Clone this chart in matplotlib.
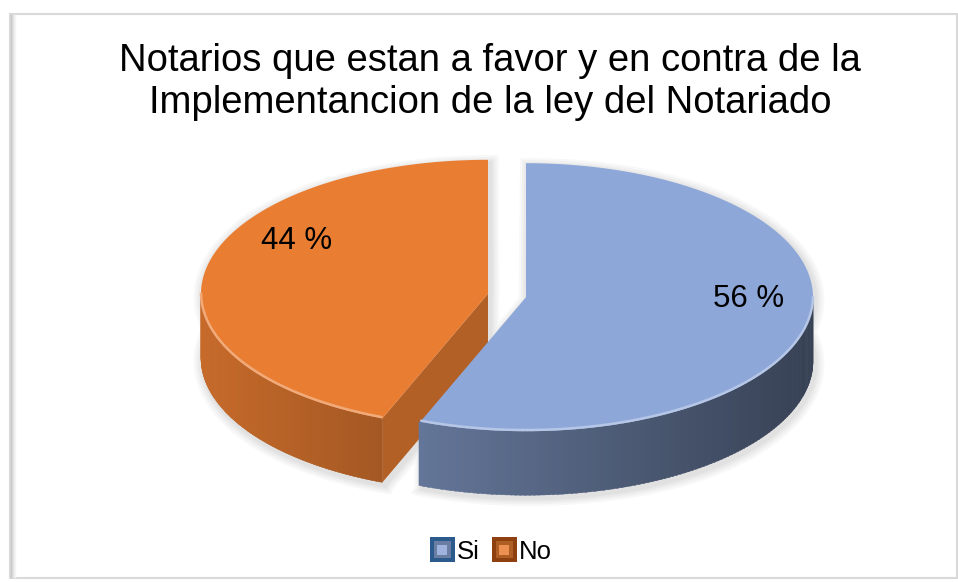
import numpy as np
import matplotlib
matplotlib.use("Agg")
import matplotlib.pyplot as plt
from matplotlib.patches import Polygon, Rectangle, Patch
from matplotlib.legend_handler import HandlerBase
from matplotlib.colors import to_rgb

plt.rcParams['font.family'] = ['Liberation Sans', 'DejaVu Sans']

# ---- data ----
title = "Notarios que estan a favor y en contra de la\nImplementancion de la ley del Notariado"
categories = ["Si", "No"]
values = [56, 44]
value_labels = ["56 %", "44 %"]
top_colors = ["#8DA7D8", "#E97D32"]
legend_edge = ["#2B5A8C", "#8E4010"]

# ---- geometry / style ----
W, H = 958, 582
CX, CY = 507, 295.5
RX, RY = 287, 134
DEPTH = 64
EXPLODE = 0.0674
label_pos = [(749, 299), (297, 241)]

fig = plt.figure(figsize=(W / 100, H / 100), dpi=100)
ax = fig.add_axes([0, 0, 1, 1])
ax.set_xlim(0, W)
ax.set_ylim(H, 0)
ax.axis('off')

# frame
ax.add_patch(Rectangle((10, 14), 947, 564, fill=False, edgecolor="#D9D9D9", lw=1.5, zorder=1))
for k, g in enumerate(["#C8C8C8", "#D6D6D6", "#E2E2E2", "#ECECEC", "#F4F4F4"]):
    ax.plot([11 + k, 11 + k], [15, 577], color=g, lw=1, zorder=1)


def pt(cx, cy, th):
    t = np.radians(th)
    return cx + RX * np.sin(t), cy - RY * np.cos(t)


def arc(cx, cy, a0, a1, n=200):
    th = np.linspace(a0, a1, n)
    x, y = pt(cx, cy, th)
    return np.column_stack([x, y])


def shade(c, f):
    r, g, b = to_rgb(c)
    return (r * f, g * f, b * f)


def lighten(c, f):
    r, g, b = to_rgb(c)
    return (r + (1 - r) * f, g + (1 - g) * f, b + (1 - b) * f)


total = float(sum(values))
bounds = np.concatenate([[0], np.cumsum(values)]) / total * 360.0
slices = []
for i in range(len(values)):
    a0, a1 = bounds[i], bounds[i + 1]
    mid = np.radians((a0 + a1) / 2)
    cx = CX + EXPLODE * RX * np.sin(mid)
    cy = CY - EXPLODE * RY * np.cos(mid)
    slices.append((a0, a1, cx, cy))

# shadows (drawn first, underneath everything)
shadow_cols = ["#F8F8F8", "#F1F1F1", "#E9E9E9", "#E1E1E1"]
for k, col in enumerate(shadow_cols):
    grow = (len(shadow_cols) - k) * 1.4
    for (a0, a1, cx, cy) in slices:
        top = np.vstack([[cx, cy], arc(cx, cy, a0, a1)])
        bot = top + np.array([0, DEPTH])
        for poly in (top, bot):
            c = poly.mean(axis=0)
            d = poly - c
            nrm = np.linalg.norm(d, axis=1, keepdims=True) + 1e-9
            p = poly + d / nrm * grow + np.array([2, 3])
            ax.add_patch(Polygon(p, closed=True, facecolor=col, edgecolor=col, lw=grow, zorder=2))
        sidep = np.vstack([arc(cx, cy, a0, a1), arc(cx, cy, a0, a1)[::-1] + np.array([0, DEPTH])])
        ax.add_patch(Polygon(sidep + np.array([2, 3]), closed=True, facecolor=col,
                             edgecolor=col, lw=grow * 2, zorder=2))

# draw slices: back (orange) first then blue
order = [1, 0]
z = 5
for i in order:
    a0, a1, cx, cy = slices[i]
    col = top_colors[i]
    # cut faces
    for a, nd in ((a0, a0 - 90), (a1, a1 + 90)):
        if np.cos(np.radians(nd)) < -1e-6:
            px, py = pt(cx, cy, a)
            face = [(cx, cy), (px, py), (px, py + DEPTH), (cx, cy + DEPTH)]
            ax.add_patch(Polygon(face, closed=True, facecolor=shade(col, 0.77),
                                 edgecolor='none', zorder=z))
    # outer side with gradient
    lo, hi = max(a0, 90), min(a1, 270)
    if lo < hi:
        th = np.linspace(lo, hi, 120)
        for j in range(len(th) - 1):
            s = np.sin(np.radians((th[j] + th[j + 1]) / 2))
            f = np.clip(0.62 - 0.23 * s, 0.38, 0.9)
            seg = arc(cx, cy, th[j], th[j + 1] + 0.3, 4)
            poly = np.vstack([seg, seg[::-1] + np.array([0, DEPTH])])
            ax.add_patch(Polygon(poly, closed=True, facecolor=shade(col, f),
                                 edgecolor=shade(col, f), lw=0.3, zorder=z))
    # top face
    top = np.vstack([[cx, cy], arc(cx, cy, a0, a1, 300)])
    ax.add_patch(Polygon(top, closed=True, facecolor=col, edgecolor='none', zorder=z + 1))
    # bevel highlight on the front rim
    if lo < hi:
        rim = arc(cx, cy, lo, hi)
        ax.plot(rim[:, 0], rim[:, 1] - 1.2, color=lighten(col, 0.35), lw=1.8,
                solid_capstyle='butt', zorder=z + 2)
    z += 5

# value labels
for i, (x, y) in enumerate(label_pos):
    ax.text(x, y, value_labels[i], fontsize=22.5, ha='center', va='center',
            color='black', zorder=40)

# title
ax.text(490, 82, title, fontsize=27.5, ha='center', va='center',
        linespacing=1.2, color='black', zorder=40)


# legend with bevelled square markers
class BevelHandler(HandlerBase):
    def create_artists(self, legend, orig_handle, xdescent, ydescent, width,
                       height, fontsize, trans):
        s = width
        x0 = -xdescent
        y0 = -ydescent + (height - s) / 2
        fc = orig_handle.get_facecolor()
        ec = orig_handle.get_edgecolor()
        arts = [
            Rectangle((x0, y0), s, s, facecolor=ec, edgecolor='none', transform=trans),
            Rectangle((x0 + s * 0.16, y0 + s * 0.16), s * 0.68, s * 0.68,
                      facecolor=shade(fc, 0.75), edgecolor='none', transform=trans),
            Rectangle((x0 + s * 0.3, y0 + s * 0.3), s * 0.4, s * 0.4,
                      facecolor=lighten(fc, 0.15), edgecolor='none', transform=trans),
        ]
        return arts


handles = [Patch(facecolor=top_colors[i], edgecolor=legend_edge[i]) for i in range(len(categories))]
leg = ax.legend(handles, categories, loc='center', bbox_to_anchor=(491 / W, 1 - 551 / H),
                ncol=2, frameon=False, fontsize=18.5, handlelength=0.97, handleheight=0.97,
                handletextpad=0.1, columnspacing=0.45, borderpad=0,
                handler_map={Patch: BevelHandler()})

fig.savefig("out.png", dpi=100)
